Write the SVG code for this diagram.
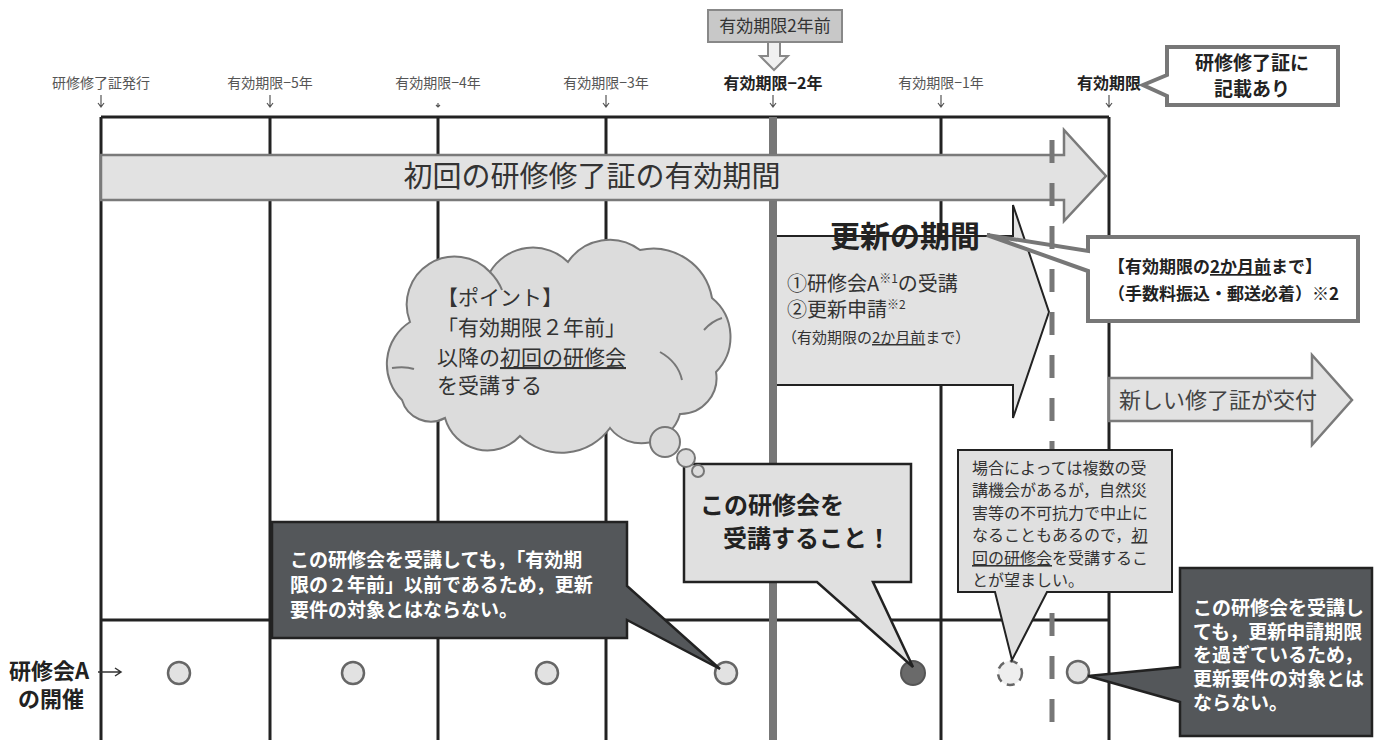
<svg xmlns="http://www.w3.org/2000/svg" width="1376" height="740" viewBox="0 0 1376 740">
<style>
text{font-family:'Noto Sans CJK JP','Noto Sans',sans-serif;}
.grid{stroke:#222;stroke-width:3;fill:none;}
.lbl{font-size:14px;fill:#555;text-anchor:middle;}
.lblb{font-size:16px;fill:#222;font-weight:bold;text-anchor:middle;}
.tick{stroke:#555;stroke-width:1.2;fill:none;}
.light{fill:#e2e2e2;}
.dot{fill:#e2e2e2;stroke:#666;stroke-width:2.5;}
.dark{fill:#54575a;stroke:#222;stroke-width:2.5;}
.wt{fill:#fff;font-size:19px;font-weight:bold;}
.u{text-decoration:underline;}
.cloud{fill:#dcdcdc;stroke:#777;stroke-width:2;}
</style>
<rect width="1376" height="740" fill="#fff"/>

<g id="grid">
<path class="grid" d="M101,117 H1109 M101,117 V740 M270,117 V740 M438,117 V740 M606,117 V740 M941,117 V740 M1109,117 V740 M101,620 H1109"/>
<line x1="773" y1="117" x2="773" y2="740" stroke="#777" stroke-width="8"/>
</g>

<g id="headers">
<text class="lbl" x="101" y="88">研修修了証発行</text>
<text class="lbl" x="270" y="88">有効期限−5年</text>
<text class="lbl" x="438" y="88">有効期限−4年</text>
<text class="lbl" x="606" y="88">有効期限−3年</text>
<text class="lblb" x="773" y="89">有効期限−2年</text>
<text class="lbl" x="941" y="88">有効期限−1年</text>
<text class="lblb" x="1109" y="89">有効期限</text>
<path class="tick" d="M101,95 V107 M98,103 L101,107 L104,103 M270,95 V107 M267,103 L270,107 L273,103 M438,103 V107 M436,105 L438,107 L440,105 M606,95 V107 M603,103 L606,107 L609,103 M773,95 V107 M770,103 L773,107 L776,103 M941,95 V107 M938,103 L941,107 L944,103 M1109,95 V107 M1106,103 L1109,107 L1112,103"/>
</g>

<g id="node-2yr-before">
<rect x="708" y="10" width="134" height="32" fill="#c8c8c8" stroke="#888" stroke-width="2"/>
<text x="775" y="32" font-size="17" fill="#333" text-anchor="middle">有効期限2年前</text>
<path d="M768,42 H780 V56 H788 L774,70 L760,56 H768 Z" fill="#f0f0f0" stroke="#888" stroke-width="2"/>
</g>

<g id="node-certificate-note">
<path d="M1167,47 H1338 V105 H1167 V96 L1143,85 L1167,75 Z" fill="#fff" stroke="#777" stroke-width="4" stroke-linejoin="miter"/>
<text x="1252" y="70" font-size="19" font-weight="bold" fill="#222" text-anchor="middle">研修修了証に</text>
<text x="1252" y="96" font-size="19" font-weight="bold" fill="#222" text-anchor="middle">記載あり</text>
</g>

<g id="node-validity-banner">
<path d="M101,155 H1064 V130 L1106,176 L1064,221 V200 H101 Z" class="light" stroke="#7a7a7a" stroke-width="2.5"/>
<text x="592" y="187" font-size="29" fill="#333" text-anchor="middle">初回の研修修了証の有効期間</text>
</g>

<g id="node-renewal-period">
<path d="M777,236 H1013 V205 L1049,312 L1013,418 V385 H777" class="light" stroke="#222" stroke-width="2"/>
<text x="905" y="247" font-size="30" font-weight="bold" fill="#222" text-anchor="middle">更新の期間</text>
<text x="787" y="291" font-size="20" fill="#333">①研修会A<tspan font-size="12" dy="-8">※1</tspan><tspan dy="8">の受講</tspan></text>
<text x="787" y="317" font-size="20" fill="#333">②更新申請<tspan font-size="12" dy="-8">※2</tspan></text>
<text x="782" y="343" font-size="15" fill="#333">（有効期限の<tspan class="u">2か月前</tspan>まで）</text>
</g>

<g id="node-deadline-note">
<path d="M1088,237 H1358 V321 H1088 V271 L987,235 L1088,251 Z" fill="#fff" stroke="#777" stroke-width="4"/>
<text x="1108" y="273" font-size="17" font-weight="bold" fill="#222">【有効期限の<tspan class="u">2か月前</tspan>まで】</text>
<text x="1108" y="300" font-size="17" font-weight="bold" fill="#222">（手数料振込・郵送必着）※2</text>
</g>

<g id="node-new-certificate">
<path d="M1109,378 H1312 V355 L1352,400 L1312,445 V421 H1109 Z" class="light" stroke="#7a7a7a" stroke-width="2.5"/>
<text x="1119" y="408" font-size="22" fill="#444">新しい修了証が交付</text>
</g>

<g id="connectors">
<line x1="1052" y1="140" x2="1052" y2="740" stroke="#777" stroke-width="5" stroke-dasharray="23 20"/>
<path d="M98,672 H121 M115,668 L121,672 L115,676" stroke="#333" stroke-width="1.5" fill="none"/>
</g>

<g id="node-point-cloud">
<path class="cloud" d="M402,400 A50 50 0 0 1 410,322 A48 48 0 0 1 490,272 A50 50 0 0 1 568,262 A50 50 0 0 1 640,250 A60 60 0 0 1 712,298 A50 50 0 0 1 716,372 A36 36 0 0 1 680,414 A40 40 0 0 1 610,428 A60 60 0 0 1 520,436 A44 44 0 0 1 445,418 A30 30 0 0 1 402,400 Z"/>
<path d="M392,368 Q405,366 414,369 M660,352 Q678,362 682,380 M704,330 Q712,321 722,318 M490,272 Q498,280 502,290" fill="none" stroke="#777" stroke-width="2"/>
<text font-size="21" fill="#333">
<tspan x="437" y="305">【ポイント】</tspan>
<tspan x="437" y="335">「有効期限２年前」</tspan>
<tspan x="437" y="365">以降の<tspan class="u">初回の研修会</tspan></tspan>
<tspan x="437" y="393">を受講する</tspan>
</text>
</g>

<g id="node-sessions">
<circle class="dot" cx="179" cy="673" r="11"/>
<circle class="dot" cx="353" cy="673" r="11"/>
<circle class="dot" cx="547" cy="673" r="11"/>
<circle class="dot" cx="726" cy="673" r="11"/>
<circle cx="913" cy="673" r="12" fill="#6a6a6a" stroke="#555" stroke-width="2"/>
<circle cx="1010" cy="673" r="12" fill="#eee" stroke="#666" stroke-width="2.5" stroke-dasharray="8 6"/>
<circle class="dot" cx="1078" cy="672" r="11"/>
<text x="9" y="679" font-size="22" font-weight="bold" fill="#222">研修会A</text>
<text x="18" y="707" font-size="22" font-weight="bold" fill="#222">の開催</text>
</g>

<g id="node-too-early">
<path class="dark" d="M272,522 H627 V586 L720,669 L627,620 V638 H272 Z"/>
<text class="wt">
<tspan x="290" y="567">この研修会を受講しても，「有効期</tspan>
<tspan x="290" y="592">限の２年前」以前であるため，更新</tspan>
<tspan x="290" y="617">要件の対象とはならない。</tspan>
</text>
</g>

<g id="node-attend-this">
<path d="M684,464 H911 V582 H873 L913,667 L817,582 H684 Z" fill="#e0e0e0" stroke="#222" stroke-width="2.5"/>
<text x="700" y="514" font-size="24" font-weight="bold" fill="#222">この研修会を</text>
<text x="723" y="547" font-size="24" font-weight="bold" fill="#222">受講すること！</text>
</g>

<g id="cloud-bubbles">
<circle class="cloud" cx="665" cy="442" r="15"/>
<circle class="cloud" cx="686" cy="458" r="9"/>
<circle class="cloud" cx="698" cy="471" r="6"/>
</g>

<g id="node-multiple-chances">
<path d="M958,450 H1172 V592 H1047 L1012,660 L995,592 H958 Z" fill="#e0e0e0" stroke="#222" stroke-width="2"/>
<text font-size="16" fill="#333">
<tspan x="972" y="474">場合によっては複数の受</tspan>
<tspan x="972" y="496">講機会があるが，自然災</tspan>
<tspan x="972" y="519">害等の不可抗力で中止に</tspan>
<tspan x="972" y="541">なることもあるので，<tspan class="u">初</tspan></tspan>
<tspan x="972" y="564"><tspan class="u">回の研修会</tspan>を受講するこ</tspan>
<tspan x="972" y="586">とが望ましい。</tspan>
</text>
</g>

<g id="node-too-late">
<path class="dark" d="M1180,568 H1372 V736 H1180 V702 L1088,676 L1180,667 Z"/>
<text class="wt">
<tspan x="1193" y="615">この研修会を受講し</tspan>
<tspan x="1193" y="639">ても，更新申請期限</tspan>
<tspan x="1193" y="662">を過ぎているため，</tspan>
<tspan x="1193" y="686">更新要件の対象とは</tspan>
<tspan x="1193" y="710">ならない。</tspan>
</text>
</g>
</svg>
